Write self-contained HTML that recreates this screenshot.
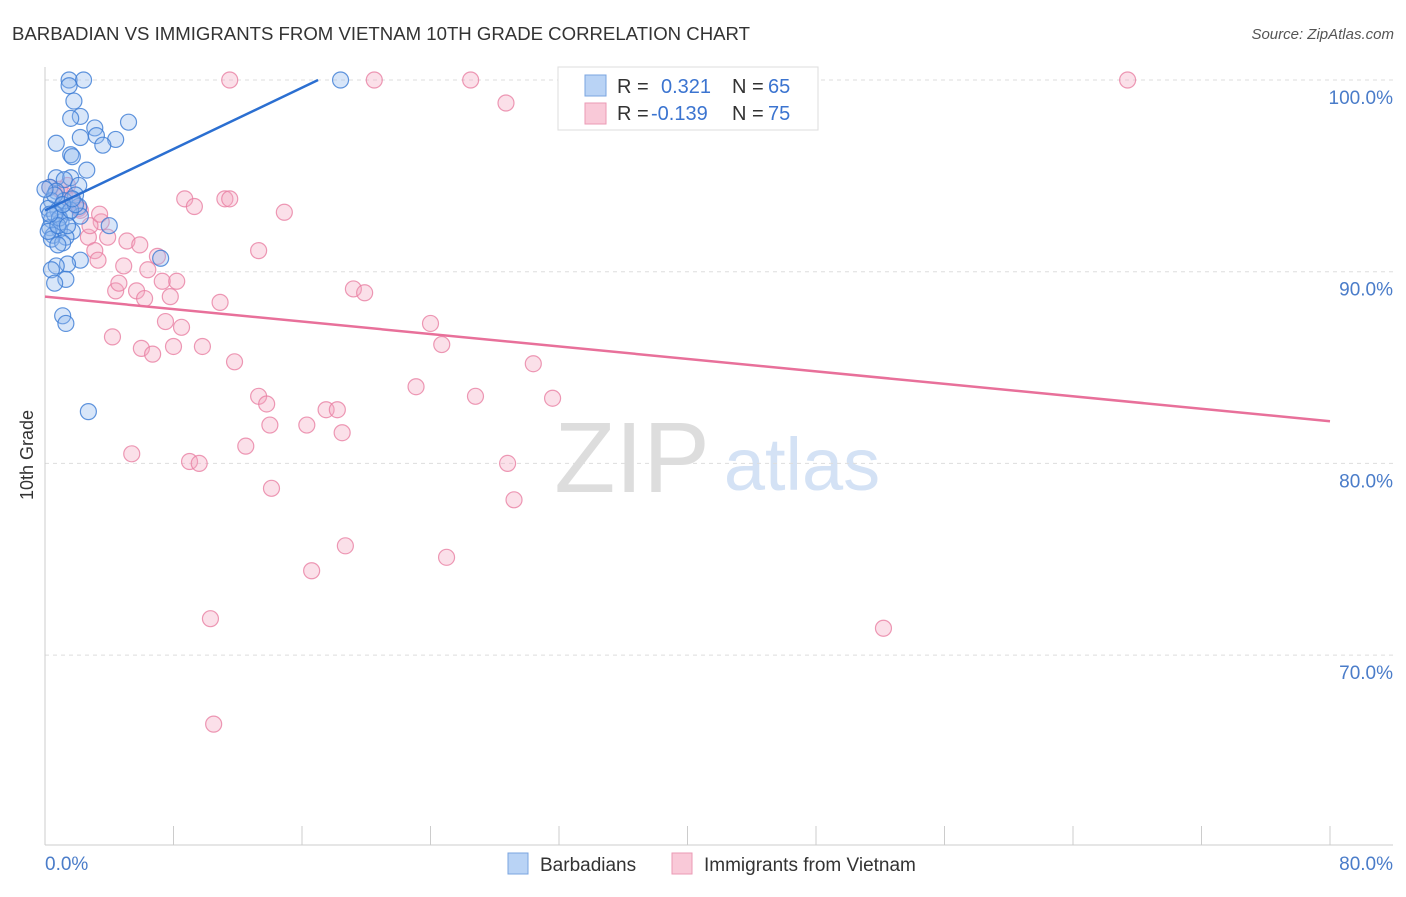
<!DOCTYPE html>
<html><head><meta charset="utf-8"><style>
body{margin:0;background:#fff;font-family:"Liberation Sans",sans-serif}
svg text{font-family:"Liberation Sans",sans-serif}
</style></head><body>
<svg id="c" width="1406" height="892">
<text x="12" y="40" font-size="18.6" fill="#333">BARBADIAN VS IMMIGRANTS FROM VIETNAM 10TH GRADE CORRELATION CHART</text>
<text x="1394" y="39" font-size="15" fill="#555" font-style="italic" text-anchor="end">Source: ZipAtlas.com</text>
<g>
<text x="632" y="492" font-size="100" fill="#ddd" text-anchor="middle" font-family="Liberation Serif,serif">ZIP</text>
<text x="802" y="490" font-size="74" fill="#d4e2f5" text-anchor="middle">atlas</text>
</g>
<g id="grid"></g><g id="axes"></g><g id="pts"></g><g id="lines"></g>
<text transform="translate(33,455) rotate(-90)" font-size="18" fill="#333" text-anchor="middle">10th Grade</text>
<g>
<rect x="558" y="67" width="260" height="63" fill="#fff" stroke="#ddd"/>
<rect x="585" y="75" width="21" height="21" fill="#b9d3f5" stroke="#7aa5e0"/>
<rect x="585" y="103" width="21" height="21" fill="#f9c9d8" stroke="#eb9ab5"/>
<text x="617" y="93" font-size="20" fill="#333">R = </text><text x="661" y="93" font-size="20" fill="#3b74d0">0.321</text>
<text x="732" y="93" font-size="20" fill="#333">N = </text><text x="768" y="93" font-size="20" fill="#3b74d0">65</text>
<text x="617" y="120" font-size="20" fill="#333">R = </text><text x="651" y="120" font-size="20" fill="#3b74d0">-0.139</text>
<text x="732" y="120" font-size="20" fill="#333">N = </text><text x="768" y="120" font-size="20" fill="#3b74d0">75</text>
</g>
<g>
<rect x="508" y="853" width="20" height="21" fill="#b9d3f5" stroke="#7aa5e0"/>
<text x="540" y="871" font-size="19" fill="#333">Barbadians</text>
<rect x="672" y="853" width="20" height="21" fill="#f9c9d8" stroke="#eb9ab5"/>
<text x="704" y="871" font-size="19" fill="#333">Immigrants from Vietnam</text>
</g>
</svg>
<script>
const blueX=[1.5,2.4,1.5,1.8,2.2,1.6,3.1,5.2,2.2,3.2,4.4,0.7,3.6,1.6,1.7,2.6,0.7,1.6,1.2,2.1,0.3,0.7,1.9,0.4,1.1,2.1,0.2,0.8,1.5,2.2,0.4,1.0,4.0,0.3,0.9,1.7,0.5,1.3,0.4,1.1,2.2,1.4,0.7,0.4,7.2,1.3,0.6,1.1,1.3,2.7,18.4,0.6,0.9,1.2,1.6,0.2,1.9,0.6,0.8,0,1.4,1.1,0.3,1.7,0.8];
const blueY=[100,100,99.7,98.9,98.1,98.0,97.5,97.8,97.0,97.1,96.9,96.7,96.6,96.1,96.0,95.3,94.9,94.9,94.8,94.5,94.4,94.2,94.0,93.7,93.5,93.4,93.3,93.2,93.1,92.9,92.7,92.6,92.4,92.3,92.2,92.1,91.9,91.8,91.7,91.5,90.6,90.4,90.3,90.1,90.7,89.6,89.4,87.7,87.3,82.7,100,93.0,92.8,93.7,93.2,92.1,93.5,94.0,92.4,94.3,92.4,93.5,93.0,93.8,91.4];
const pinkX=[11.5,20.5,26.5,43.3,67.4,28.7,0.3,0.9,1.2,1.7,2.1,8.7,9.3,11.2,11.5,14.9,3.5,2.7,3.9,5.1,3.1,13.3,3.3,4.9,7.0,6.4,7.3,8.2,4.4,4.6,5.7,6.2,7.8,10.9,19.2,19.9,7.5,8.5,4.2,6.0,6.7,8.0,9.8,24.0,24.7,11.8,30.4,23.1,13.3,13.8,26.8,31.6,14.0,16.3,17.5,18.2,18.5,12.5,5.4,9.0,9.6,28.8,14.1,29.2,18.7,25.0,16.6,10.3,52.2,10.5,2.2,2.8,1.4,3.4,5.9];
const pinkY=[100,100,100,100,100,98.8,94.4,94.3,94.0,93.7,93.3,93.8,93.4,93.8,93.8,93.1,92.6,91.8,91.8,91.6,91.1,91.1,90.6,90.3,90.8,90.1,89.5,89.5,89.0,89.4,89.0,88.6,88.7,88.4,89.1,88.9,87.4,87.1,86.6,86.0,85.7,86.1,86.1,87.3,86.2,85.3,85.2,84.0,83.5,83.1,83.5,83.4,82.0,82.0,82.8,82.8,81.6,80.9,80.5,80.1,80.0,80.0,78.7,78.1,75.7,75.1,74.4,71.9,71.4,66.4,93.2,92.4,94.5,93.0,91.4];
const yTicks=[100,90,80,70];
const yTickLabels=["100.0%","90.0%","80.0%","70.0%"];
const xTicks=[0,8,16,24,32,40,48,56,64,72,80];
const blueTrend=[[0,93.2],[17,100]];
const pinkTrend=[[0,88.7],[80,82.2]];
const X=v=>45+v*1285/80, Y=v=>80+(100-v)*19.17;
const NS="http://www.w3.org/2000/svg";
function mk(p,t,a){const e=document.createElementNS(NS,t);for(const k in a)e.setAttribute(k,a[k]);p.appendChild(e);return e;}
const grid=document.getElementById('grid'),axes=document.getElementById('axes'),pts=document.getElementById('pts'),lines=document.getElementById('lines');
yTicks.forEach((t,i)=>{
 const l=mk(grid,'line',{x1:45,x2:1393,y1:Y(t),y2:Y(t),stroke:'#ddd','stroke-dasharray':'4,4'});
 
 
 const tx=mk(axes,'text',{x:1393,y:Y(t)+24,'font-size':19,fill:'#4a7cc9','text-anchor':'end'});
 tx.textContent=yTickLabels[i];
 
 
});
let a=mk(axes,'line',{x1:45,x2:45,y1:67,y2:845,stroke:'#ccc'});


a=mk(axes,'line',{x1:45,x2:1393,y1:845,y2:845,stroke:'#ccc'});


xTicks.forEach(t=>{const l=mk(axes,'line',{x1:X(t),x2:X(t),y1:826,y2:845,stroke:'#ccc'});
 
 });
let t0=mk(axes,'text',{x:45,y:870,'font-size':19,fill:'#4a7cc9'});t0.textContent='0.0%';


t0=mk(axes,'text',{x:1393,y:870,'font-size':19,fill:'#4a7cc9','text-anchor':'end'});t0.textContent='80.0%';


function dots(xs,ys,fill,stroke,name){xs.forEach((x,i)=>{
 const c=mk(pts,'circle',{cx:X(x),cy:Y(ys[i]),r:8,fill:fill,'fill-opacity':0.35,stroke:stroke,'stroke-width':1.2,'stroke-opacity':0.8});
 
 });}
dots(pinkX,pinkY,'#f4a7c0','#e87fa3','point-vietnam');
dots(blueX,blueY,'#8fb8ee','#3a7bd5','point-barbadian');
let L=mk(lines,'line',{x1:X(blueTrend[0][0]),y1:Y(blueTrend[0][1]),x2:X(blueTrend[1][0]),y2:Y(blueTrend[1][1]),stroke:'#2b6fd1','stroke-width':2.5});


L=mk(lines,'line',{x1:X(pinkTrend[0][0]),y1:Y(pinkTrend[0][1]),x2:X(pinkTrend[1][0]),y2:Y(pinkTrend[1][1]),stroke:'#e8709a','stroke-width':2.5});


</script>
</body></html>
